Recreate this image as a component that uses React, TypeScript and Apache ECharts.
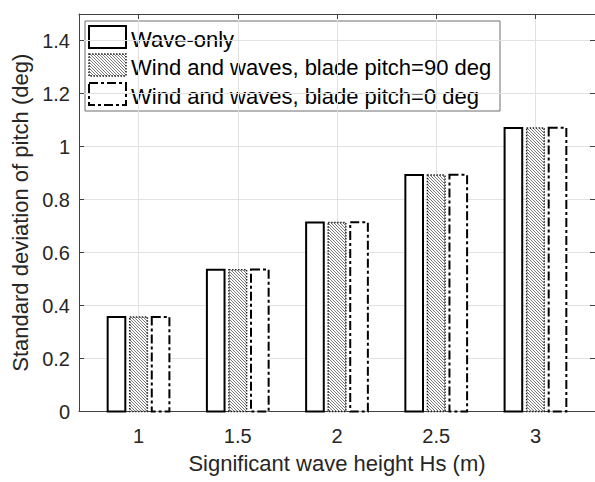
import React, { useEffect, useRef } from "react";
import * as echarts from "echarts";

// ---- data ----
const HS = [1, 1.5, 2, 2.5, 3];
const WAVE_ONLY = [0.357, 0.535, 0.713, 0.892, 1.07];
const WIND_PITCH90 = [0.357, 0.535, 0.713, 0.892, 1.07];
const WIND_PITCH0 = [0.357, 0.536, 0.714, 0.893, 1.071];
const SERIES_NAMES = [
  "Wave-only",
  "Wind and waves, blade pitch=90 deg",
  "Wind and waves, blade pitch=0 deg",
];
const X_TICKS = [1, 1.5, 2, 2.5, 3];
const X_NAME = "Significant wave height Hs (m)";
const Y_NAME = "Standard deviation of pitch (deg)";

// ---- styles ----
const FONT = "'Liberation Sans', Arial, Helvetica, sans-serif";
const TEXT = "#262626";
const AXIS = "#404040";
const GRID = "#e2e2e2";
const BAR_W = 0.0889;
const OFFSETS = [-0.1111, 0, 0.1111];
const HATCH_STEP = 3;
const HATCH_STYLE = { stroke: "#7a7a7a", lineWidth: 1 };
const BORDERS = [
  { stroke: "#000", lineWidth: 2, lineDash: null as any },
  { stroke: "#222", lineWidth: 1.5, lineDash: [1.5, 1.5] },
  { stroke: "#000", lineWidth: 2, lineDash: [9, 3, 3, 3] },
];

function hatchLines(x0: number, y0: number, w: number, h: number) {
  const x1 = x0 + w;
  const y1 = y0 + h;
  const out: any[] = [];
  const start = Math.ceil((x0 - y1) / HATCH_STEP) * HATCH_STEP;
  for (let c = start; c <= x1 - y0; c += HATCH_STEP) {
    const ya = Math.max(y0, x0 - c);
    const yb = Math.min(y1, x1 - c);
    if (yb > ya) {
      out.push({
        type: "line",
        shape: { x1: ya + c, y1: ya, x2: yb + c, y2: yb },
        style: { ...HATCH_STYLE },
        silent: true,
      });
    }
  }
  return out;
}

function swatch(idx: number, x: number, y: number, w: number, h: number) {
  const b = BORDERS[idx];
  const children: any[] = [
    { type: "rect", shape: { x, y, width: w, height: h }, style: { fill: "#fff" } },
  ];
  if (idx === 1) children.push(...hatchLines(x, y, w, h));
  children.push({
    type: "rect",
    shape: { x, y, width: w, height: h },
    style: { fill: "none", stroke: b.stroke, lineWidth: b.lineWidth, lineDash: b.lineDash },
  });
  return children;
}

const makeRender = (idx: number) => (params: any, api: any) => {
  const x = api.value(0);
  const y = api.value(1);
  const off = OFFSETS[idx];
  const p0 = api.coord([x + off - BAR_W / 2, y]);
  const p1 = api.coord([x + off + BAR_W / 2, 0]);
  return {
    type: "group",
    children: swatch(idx, p0[0], p0[1], p1[0] - p0[0], p1[1] - p0[1]),
  };
};

export default function App() {
  const ref = useRef<HTMLDivElement>(null);
  useEffect(() => {
    if (!ref.current) return;
    const chart = echarts.init(ref.current, null, { renderer: "svg" });
    const seriesData = [WAVE_ONLY, WIND_PITCH90, WIND_PITCH0];

    // legend (drawn as graphic, MATLAB-style)
    const LX = 89, LW = 37, LH = 22;
    const rowsY = [26, 54, 83];
    const legendChildren: any[] = [
      {
        type: "rect",
        shape: { x: 85, y: 21, width: 415, height: 90 },
        style: { fill: "none", stroke: "#6e6e6e", lineWidth: 1 },
      },
    ];
    SERIES_NAMES.forEach((name, i) => {
      legendChildren.push(...swatch(i, LX, rowsY[i], LW, LH));
      legendChildren.push({
        type: "text",
        x: 131,
        y: rowsY[i] + LH / 2 + 2,
        style: {
          text: name,
          fill: "#000",
          font: `22px ${FONT}`,
          verticalAlign: "middle",
          align: "left",
        },
      });
    });

    const lineStyle = { color: AXIS, width: 1 };
    const option: any = {
      animation: false,
      backgroundColor: "#fff",
      textStyle: { fontFamily: FONT },
      grid: { left: 79, top: 14, width: 516, height: 397.5, containLabel: false, outerBoundsMode: "none" },
      xAxis: [
        {
          type: "value",
          min: 0.7,
          max: 3.3,
          position: "bottom",
          axisLine: { show: true, onZero: false, lineStyle },
          axisTick: { show: true, inside: true, length: 5, customValues: X_TICKS, lineStyle },
          axisLabel: { customValues: X_TICKS, fontSize: 20, color: TEXT, margin: 14, fontFamily: FONT },
          splitLine: { show: true, lineStyle: { color: GRID, width: 1 } },
          name: X_NAME,
          nameLocation: "middle",
          nameGap: 41,
          nameTextStyle: { fontSize: 22, color: TEXT, fontFamily: FONT },
        },
        {
          type: "value",
          min: 0.7,
          max: 3.3,
          position: "top",
          axisLine: { show: true, onZero: false, lineStyle },
          axisTick: { show: true, inside: true, length: 5, customValues: X_TICKS, lineStyle },
          axisLabel: { show: false },
          splitLine: { show: false },
        },
      ],
      yAxis: [
        {
          type: "value",
          min: 0,
          max: 1.5,
          interval: 0.2,
          position: "left",
          axisLine: { show: true, onZero: false, lineStyle },
          axisTick: { show: true, inside: true, length: 5, lineStyle },
          axisLabel: {
            fontSize: 20,
            color: TEXT,
            margin: 9,
            fontFamily: FONT,
            formatter: (v: number) =>
              Math.abs(v * 5 - Math.round(v * 5)) < 1e-6 ? String(Math.round(v * 10) / 10) : "",
          },
          splitLine: { show: true, lineStyle: { color: GRID, width: 1 } },
          name: Y_NAME,
          nameLocation: "middle",
          nameGap: 47,
          nameTextStyle: { fontSize: 22, color: TEXT, fontFamily: FONT },
        },
        {
          type: "value",
          min: 0,
          max: 1.5,
          interval: 0.2,
          position: "right",
          axisLine: { show: true, onZero: false, lineStyle },
          axisTick: { show: true, inside: true, length: 5, lineStyle },
          axisLabel: { show: false },
          splitLine: { show: false },
        },
      ],
      series: seriesData.map((vals, i) => ({
        type: "custom",
        name: SERIES_NAMES[i],
        xAxisIndex: 0,
        yAxisIndex: 0,
        renderItem: makeRender(i),
        encode: { x: 0, y: 1 },
        data: HS.map((h, j) => [h, vals[j]]),
        z: 3,
        silent: true,
      })),
      graphic: [{ type: "group", z: 10, children: legendChildren }],
    };
    chart.setOption(option);
    return () => chart.dispose();
  }, []);
  return (
    <div
      ref={ref}
      style={{ position: "fixed", left: 0, top: 0, width: 595, height: 482 }}
    />
  );
}
